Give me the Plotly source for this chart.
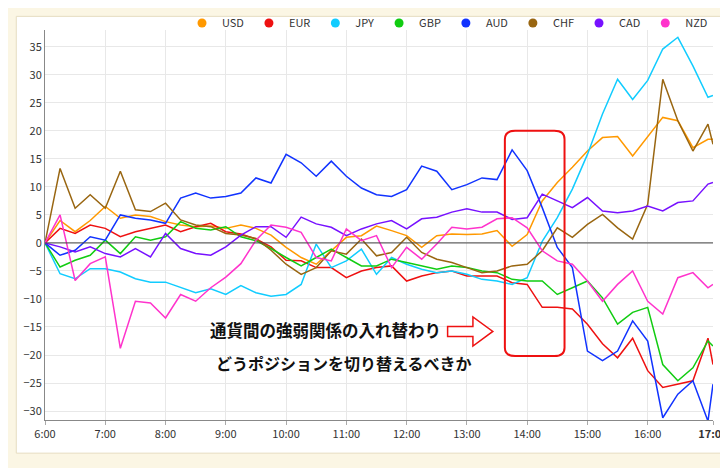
import plotly.graph_objects as go

times = [6 + i * 0.25 for i in range(45)] + [17 + 5/60]

usd = [0,4,2,4,6.5,4.4,5,4.7,3.8,3.2,2.9,3,2.6,3.2,2.6,1.4,-0.8,-2.6,-3.8,-1.4,1,1.3,3,2.2,1.3,-0.8,1.3,1.6,1.5,1.6,2.2,-0.6,1.5,7.5,10.8,13.5,16.4,18.8,19,15.5,19,22.4,21.8,17,18.5,18.5]
eur = [0,2.6,1.7,3.2,2.6,1.1,2,2.6,3.2,2,2.9,3.5,2,1.6,0.7,-0.7,-3.1,-3.2,-4.4,-4.4,-6.2,-5,-4.4,-4.1,-6.8,-5.9,-5.3,-5,-5.9,-5.9,-5.9,-7.1,-7.4,-11.5,-11.5,-11.8,-14.5,-18,-20.5,-17,-22.8,-25.8,-25.2,-24.6,-17,-21.7]
jpy = [0,-5.5,-6.4,-4.6,-4.6,-5.2,-6.4,-7,-7,-8,-8.9,-8.2,-9.2,-7.6,-8.9,-9.5,-9.2,-7.4,-0.2,-4.4,-3.2,-1.1,-5.6,-2.6,-3.8,-4.7,-5.3,-5,-5.6,-6.5,-6.8,-7.4,-6.2,0.3,4.5,9.6,15.8,23,29.2,25.6,29,34.6,36.7,31.6,26,26.3]
gbp = [0,-4.3,-3.1,-2.2,0.5,-1.9,1.1,0.5,1.1,3.8,2.6,2.3,2.9,1.1,0.4,-1,-2.6,-4.1,-2.6,-1.1,-2.6,-4.1,-4.1,-2.9,-3.5,-4.1,-4.7,-4.1,-4.4,-5,-5.3,-6.5,-6.8,-6.8,-9.2,-8,-6.8,-9.8,-14.5,-12.4,-11.5,-21.7,-24.6,-22.3,-17.5,-18.4]
aud = [0,-2.2,-1.3,1.1,0.5,5,4.4,4.1,3.5,8,8.9,8,8.3,8.9,11.6,10.7,15.8,14.3,11.9,14.6,11.9,9.8,8.6,8.3,9.5,13.7,12.8,9.5,10.4,11.6,11.3,16.6,12.9,6.3,-0.8,-4.4,-19.3,-21,-19.3,-13.9,-17.5,-31.2,-27,-24.6,-31.8,-25.2]
chf = [0,13.3,6.2,8.6,6.2,12.8,5.9,5.6,7.1,4.1,3.2,2.9,1.7,1.4,0.8,-1.3,-3.8,-5.6,-4.4,-1.4,-2,0.7,-2.3,-1.7,1,-1.7,-2.9,-3.5,-4.4,-5.3,-5,-4.1,-3.8,-1.4,2.7,1,3.3,5.1,2.7,0.7,6.9,29.2,21.8,16.4,21.2,17.6]
cad = [0,-0.7,-1.6,-0.7,-1.9,-2.5,-1,-2.5,1.7,-1,-1.9,-2.2,-0.7,1.4,2.9,2.9,1,4.6,3.4,2.8,1.3,2.5,3.4,4,2.5,4.3,4.6,5.5,6.1,5.5,5.5,4.2,4.5,8.7,7.5,6.3,8.1,5.7,5.4,5.7,6.6,5.7,7.2,7.5,10.5,10.8]
nzd = [0,5,-6.7,-3.7,-2.5,-18.8,-10.4,-10.7,-13.4,-9.2,-10.4,-8,-6.1,-3.7,0.5,3.2,2.8,1.9,-2.6,-3.2,2.5,0.4,1.3,-4.4,-0.8,-2.9,-0.2,2.8,2.5,2.8,4.3,4.5,2.7,-1.4,-3.2,-3.8,-6.8,-10.4,-7.4,-5,-10.4,-12.7,-6.2,-5.3,-8,-7.4]

names = ["USD", "EUR", "JPY", "GBP", "AUD", "CHF", "CAD", "NZD"]
series = [usd, eur, jpy, gbp, aud, chf, cad, nzd]
colors = ["#ff9900", "#ee1111", "#11ccff", "#11cc11", "#1133ff", "#996611", "#7711ff", "#ff33cc"]

tick_vals = list(range(6, 17)) + [17 + 5/60]
tick_text = [f"{h}:00" for h in range(6, 17)] + ["<b>17:05</b>"]

fig = go.Figure()
for n, s, c in zip(names, series, colors):
    fig.add_trace(go.Scatter(x=times, y=s, mode="lines", line=dict(color=c, width=1.5), showlegend=False, name=n))
for n, c in zip(names, colors):
    fig.add_trace(go.Scatter(x=[None], y=[None], mode="markers", marker=dict(color=c, size=9), name=n))

shapes = [
    dict(type="rect", xref="paper", yref="paper", x0=-0.043, x1=1.0225, y0=-0.085, y1=1.035,
         fillcolor="white", line=dict(color="#e6dcc0", width=1), layer="below"),
    dict(type="line", xref="paper", yref="y", x0=0, x1=1, y0=0, y1=0, line=dict(color="#444", width=1)),
    dict(type="path", xref="x", yref="y",
         path="M 13.63,18.5 Q 13.63,20 13.8,20 L 14.45,20 Q 14.62,20 14.62,18.5 L 14.62,-18.7 Q 14.62,-20.2 14.45,-20.2 L 13.8,-20.2 Q 13.63,-20.2 13.63,-18.7 Z",
         line=dict(color="#ee1111", width=2)),
    dict(type="path", xref="x", yref="y",
         path="M 12.68,-14.9 L 13.1,-14.9 L 13.1,-13.2 L 13.43,-15.8 L 13.1,-18.4 L 13.1,-16.7 L 12.68,-16.7 Z",
         line=dict(color="#ee1111", width=1.5), fillcolor="white"),
]

fig.update_layout(
    width=728, height=468,
    margin=dict(l=37, r=23, t=22, b=56, autoexpand=False),
    paper_bgcolor="#fbf6e4", plot_bgcolor="white",
    font=dict(family="Noto Sans CJK JP, Lato, sans-serif", size=11, color="#333"),
    shapes=shapes,
    legend=dict(orientation="h", x=1, xanchor="right", y=1.055, yanchor="top",
                font=dict(size=11), bgcolor="rgba(0,0,0,0)", itemwidth=30, tracegroupgap=0),
    xaxis=dict(range=[6, 17 + 5/60], tickvals=tick_vals, ticktext=tick_text, showgrid=True,
               gridcolor="#e8e8e8", zeroline=False, showline=True, linecolor="#888", ticks="outside",
               ticklen=4, tickcolor="#aaa"),
    yaxis=dict(range=[-31.6, 38.0], dtick=5, showgrid=True, gridcolor="#e8e8e8", zeroline=False,
               showline=True, linecolor="#888"),
    annotations=[
        dict(x=8.7, y=-15.6, xref="x", yref="y", text="<b>通貨間の強弱関係の入れ替わり</b>", showarrow=False,
             xanchor="left", font=dict(size=16.5, color="#111")),
        dict(x=8.8, y=-21.4, xref="x", yref="y", text="<b>どうポジションを切り替えるべきか</b>", showarrow=False,
             xanchor="left", font=dict(size=16, color="#111")),
    ],
)
fig.write_html("out.html")
